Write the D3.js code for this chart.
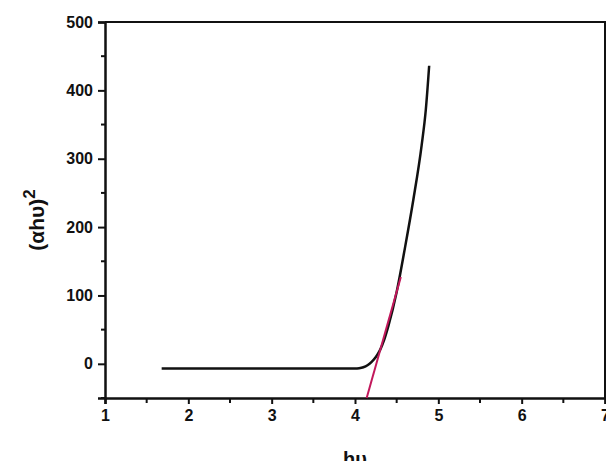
<!DOCTYPE html>
<html><head><meta charset="utf-8">
<script src="https://cdn.jsdelivr.net/npm/d3@7"></script>
<style>body{margin:0;background:#fff}svg{display:block}text{font-family:"Liberation Sans",Arial,sans-serif;font-weight:bold;fill:#111}</style>
</head><body>
<script>
const energy = [1.68, 2.0, 2.5, 3.0, 3.5, 4.0, 4.05, 4.1, 4.15, 4.2, 4.25, 4.3, 4.35, 4.4, 4.5, 4.6, 4.7, 4.8, 4.85, 4.89];
const absorb = [-7, -7, -7, -7, -7, -7, -6.5, -5, -2, 3, 10, 20, 35, 55, 105, 170, 240, 320, 372, 436];
const tangentX = [4.14, 4.55];
const tangentY = [-50, 127];
const xTicks = [1, 2, 3, 4, 5, 6, 7];
const yTicks = [0, 100, 200, 300, 400, 500];
const xMinor = [1.5, 2.5, 3.5, 4.5, 5.5, 6.5];
const yMinor = [-50, 50, 150, 250, 350, 450];

const W = 606, H = 461;
const m = {l:105, r:1, t:22, b:63};
const svg = d3.select("body").append("svg").attr("width", W).attr("height", H);
const x = d3.scaleLinear().domain([1,7]).range([m.l, W-m.r]);
const y = d3.scaleLinear().domain([-50,500]).range([H-m.b, m.t]);

// frame
svg.append("path").attr("d", `M${x(1)},${y(500)}H${x(7)}V${y(-50)}`).attr("fill","none").attr("stroke","#111").attr("stroke-width",2);

const gx = svg.append("g").attr("transform",`translate(0,${y(-50)})`)
  .call(d3.axisBottom(x).tickValues(xTicks).tickFormat(d3.format("d")).tickSizeOuter(0).tickSize(6).tickPadding(6));
gx.append("g").selectAll("line").data(xMinor).join("line")
  .attr("x1",d=>x(d)).attr("x2",d=>x(d)).attr("y1",0).attr("y2",5).attr("stroke","#111").attr("stroke-width",2);
const gy = svg.append("g").attr("transform",`translate(${x(1)},0)`)
  .call(d3.axisLeft(y).tickValues(yTicks).tickFormat(d3.format("d")).tickSizeOuter(0).tickSize(7).tickPadding(5));
gy.append("g").selectAll("line").data(yMinor).join("line")
  .attr("y1",d=>y(d)).attr("y2",d=>y(d)).attr("x1",0).attr("x2",-4).attr("stroke","#111").attr("stroke-width",2);
[gx,gy].forEach(g=>{
  g.select(".domain").attr("stroke","#111").attr("stroke-width",2.5);
  g.selectAll(".tick line").attr("stroke","#111").attr("stroke-width",2);
  g.selectAll(".tick text").attr("font-size",16).attr("font-weight","bold").attr("fill","#111").attr("font-family","Liberation Sans, Arial, sans-serif");
});

const pts = energy.map((e,i)=>[e, absorb[i]]);
svg.append("path").datum(pts)
  .attr("d", d3.line().x(d=>x(d[0])).y(d=>y(d[1])).curve(d3.curveMonotoneX))
  .attr("fill","none").attr("stroke","#111").attr("stroke-width",2.5);

svg.append("path").datum(tangentX.map((e,i)=>[e, tangentY[i]]))
  .attr("d", d3.line().x(d=>x(d[0])).y(d=>y(d[1])))
  .attr("fill","none").attr("stroke","#c2185b").attr("stroke-width",2);

// axis titles
svg.append("text").attr("transform",`translate(44,220) rotate(-90)`)
  .attr("text-anchor","middle").attr("font-size",21)
  .html('(αhυ)<tspan dy="-9" font-size="17">2</tspan>');
svg.append("text").attr("x",(x(1)+x(7))/2).attr("y",466).attr("text-anchor","middle").attr("font-size",20).text("hυ");
</script>
</body></html>
